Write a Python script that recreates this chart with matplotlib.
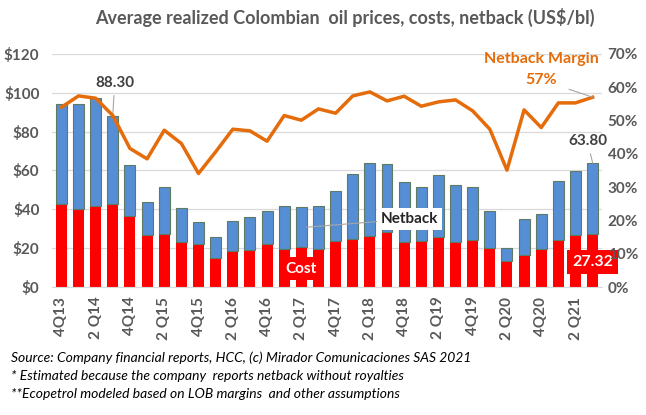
import matplotlib
matplotlib.use("Agg")
import matplotlib.pyplot as plt
import numpy as np

plt.rcParams["font.family"] = ["Lato", "DejaVu Sans"]

# ---------------------------------------------------------------------------
# Data
# ---------------------------------------------------------------------------
quarters = ["4Q13", "1Q14", "2Q14", "3Q14", "4Q14", "1Q15", "2Q15", "3Q15",
            "4Q15", "1Q16", "2Q16", "3Q16", "4Q16", "1Q17", "2Q17", "3Q17",
            "4Q17", "1Q18", "2Q18", "3Q18", "4Q18", "1Q19", "2Q19", "3Q19",
            "4Q19", "1Q20", "2Q20", "3Q20", "4Q20", "1Q21", "2Q21", "3Q21"]

price = [94.2, 94.2, 97.3, 88.3, 62.6, 43.7, 51.6, 40.6,
         33.4, 26.0, 34.2, 35.8, 39.0, 41.6, 41.1, 41.6,
         49.5, 58.3, 63.9, 63.3, 54.0, 51.6, 57.6, 52.6,
         51.6, 38.9, 20.3, 35.2, 37.6, 54.7, 59.7, 63.8]

cost = [42.8, 40.1, 41.6, 42.8, 36.6, 26.6, 27.2, 23.0,
        22.0, 15.1, 18.4, 18.9, 22.0, 19.8, 20.5, 19.4,
        23.6, 24.6, 26.1, 28.4, 23.0, 23.6, 25.6, 23.0,
        24.1, 20.3, 13.2, 16.3, 19.4, 24.4, 26.6, 27.32]

margin = [54.0, 57.4, 56.7, 51.5, 41.6, 38.5, 47.1, 43.1,
          34.1, 40.6, 47.4, 46.9, 43.8, 51.5, 50.1, 53.5,
          52.2, 57.4, 58.6, 55.9, 57.3, 54.3, 55.6, 56.2,
          52.9, 47.4, 35.1, 53.2, 47.9, 55.3, 55.3, 57.0]

tick_labels = ["4Q13", "2 Q14", "4Q14", "2 Q15", "4Q15", "2 Q16", "4Q16", "2 Q17",
               "4Q17", "2 Q18", "4Q18", "2 Q19", "4Q19", "2 Q20", "4Q20", "2 Q21"]

footnotes = ["Source: Company financial reports, HCC, (c) Mirador Comunicaciones SAS 2021",
             "* Estimated because the company  reports netback without royalties",
             "**Ecopetrol modeled based on LOB margins  and other assumptions"]

# ---------------------------------------------------------------------------
RED = "#FF0000"
BLUE = "#558ED5"
ORANGE = "#E46C0A"
GREY = "#595959"

x = np.arange(len(quarters))
netback = np.array(price) - np.array(cost)

fig = plt.figure(figsize=(6.46, 4.15), dpi=100)
ax = fig.add_axes([0.0805, 0.3084, 0.8515, 0.5616])

ax.bar(x, cost, width=0.64, color=RED, edgecolor="none", zorder=2)
ax.bar(x, netback, bottom=cost, width=0.64, color=BLUE,
       edgecolor="#5F7A63", linewidth=0.8, zorder=2)

ax.set_xlim(-0.55, len(x) - 0.45)
ax.set_ylim(0, 120)
ax.set_yticks(range(0, 121, 20))
ax.set_yticklabels([f"${v}" for v in range(0, 121, 20)])
ax.set_xticks(x[::2])
ax.set_xticklabels(tick_labels, rotation=90)
ax.grid(axis="y", color="#D9D9D9", linewidth=0.9, zorder=0)
ax.set_axisbelow(True)
for s in ["top", "right", "left"]:
    ax.spines[s].set_visible(False)
ax.spines["bottom"].set_color("#D9D9D9")
ax.tick_params(axis="both", length=0, colors=GREY, labelsize=11)
ax.tick_params(axis="y", pad=9)
ax.tick_params(axis="x", pad=7)
for lab in ax.get_xticklabels() + ax.get_yticklabels():
    lab.set_fontweight("bold")

ax2 = ax.twinx()
ax2.plot(x, margin, color=ORANGE, linewidth=2.5, zorder=3)
ax2.set_ylim(0, 70)
ax2.set_yticks(range(0, 71, 10))
ax2.set_yticklabels([f"{v}%" for v in range(0, 71, 10)])
for s in ["top", "right", "left", "bottom"]:
    ax2.spines[s].set_visible(False)
ax2.tick_params(axis="y", length=0, colors=GREY, labelsize=11, pad=4)
for lab in ax2.get_yticklabels():
    lab.set_fontweight("bold")

# annotations
lbl = dict(fontsize=11, fontweight="bold", color="#404040", ha="center")
ax.annotate("88.30", xy=(3, price[3]), xytext=(3.1, 103), **lbl,
            arrowprops=dict(arrowstyle="-", color="#A6A6A6", lw=0.8,
                            shrinkA=2, shrinkB=0))
ax.annotate("63.80", xy=(31, price[31]), xytext=(30.7, 73), **lbl,
            arrowprops=dict(arrowstyle="-", color="#A6A6A6", lw=0.8,
                            shrinkA=2, shrinkB=0))
ax.text(28.0, 117.5, "Netback Margin", fontsize=11.5, fontweight="bold",
        color=ORANGE, ha="center", va="center")
ax2.annotate("57%", xy=(31, margin[31]), xytext=(28.0, 62.2), fontsize=11.5,
             fontweight="bold", color=ORANGE, ha="center", va="center",
             arrowprops=dict(arrowstyle="-", color="#A6A6A6", lw=0.8,
                             shrinkA=7, shrinkB=0))
ax.annotate("Netback", xy=(14.3, 30.8), xytext=(20.3, 35), fontsize=11,
            fontweight="bold", color="#262626", ha="center", va="center",
            bbox=dict(boxstyle="square,pad=0.25", fc="white", ec="none"),
            arrowprops=dict(arrowstyle="-", color="#A6A6A6", lw=0.8,
                            shrinkA=0, shrinkB=0), zorder=5)
ax.text(14.0, 9.5, "Cost", fontsize=11, fontweight="bold", color="white",
        ha="center", va="center", zorder=5,
        bbox=dict(boxstyle="square,pad=0.3", fc=RED, ec="none"))
ax.text(31.0, 12.8, "27.32", fontsize=11.5, fontweight="bold", color="white",
        ha="center", va="center", zorder=5,
        bbox=dict(boxstyle="square,pad=0.3", fc=RED, ec="none"))

fig.text(0.534, 0.958, "Average realized Colombian  oil prices, costs, netback (US$/bl)",
         fontsize=13, fontweight="bold", color=GREY, ha="center", va="center")

for i, line in enumerate(footnotes):
    fig.text(0.017, 0.138 - i * 0.044, line, fontsize=10, style="italic",
             color="black", ha="left", va="center")

fig.savefig("out.png", dpi=100)
